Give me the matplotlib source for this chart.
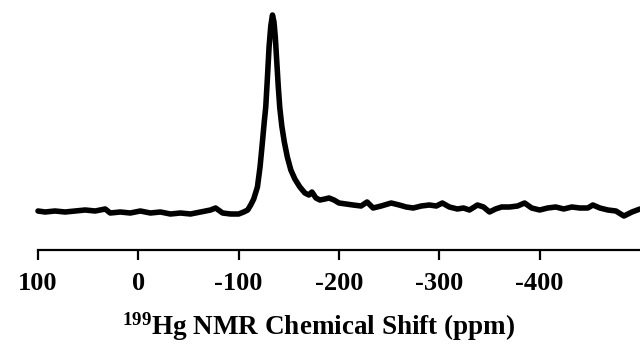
import numpy as np
import matplotlib.pyplot as plt

plt.rcParams['font.family'] = 'Liberation Serif'
plt.rcParams['font.weight'] = 'bold'
plt.rcParams['mathtext.fontset'] = 'custom'
plt.rcParams['mathtext.rm'] = 'Liberation Serif:bold'
plt.rcParams['mathtext.it'] = 'Liberation Serif:bold'
plt.rcParams['mathtext.bf'] = 'Liberation Serif:bold'

# 199Hg spectrum, chemical shift (ppm) vs intensity (a.u.)
shift = [100, 93, 83, 73, 63, 53, 43, 38, 33, 28, 18, 8, -2, -12, -22, -32,
         -42, -52, -62, -72, -77, -84, -92, -100, -105, -109, -112, -115,
         -118.7, -121.3, -123.5, -125.5, -127, -128.7, -130.3, -132, -133.7,
         -135.2, -136.5, -138, -139.5, -141, -143, -145.5, -148.5, -152,
         -156, -161, -166, -170, -173, -177, -181, -186, -190, -195, -200,
         -207, -214, -222, -228, -234, -242, -252, -260, -267, -274, -282,
         -290, -297, -303, -310, -318, -324, -330, -338, -344, -350, -356,
         -362, -370, -378, -385, -392, -400, -408, -416, -424, -432, -440,
         -448, -453, -460, -468, -476, -484, -492, -500]
intensity = [1, 0, 1, 0, 1, 2, 1, 2, 3, -1, 0, -1, 1, -1, 0, -2,
             -1, -2, 0, 2, 4, -1, -2, -2, 0, 2, 7, 13,
             25, 45, 68, 90, 105, 135, 165, 186, 197,
             190, 175, 150, 125, 104, 86, 70, 55, 42,
             33, 25, 19, 17, 20, 14, 12, 13, 14, 12, 9,
             8, 7, 6, 10, 4, 6, 9, 7, 5, 4, 6,
             7, 6, 9, 5, 3, 4, 2, 7, 5, 0, 3,
             5, 5, 6, 9, 4, 2, 4, 5, 3, 5, 4,
             4, 7, 4, 2, 1, -4, 0, 3]

tick_vals = [100, 0, -100, -200, -300, -400]

fig = plt.figure(figsize=(6.4, 3.47), dpi=100)
ax = fig.add_axes([38/640, 97/347, 602/640, 240/347])

ax.plot(shift, intensity, color='black', lw=4.0,
        solid_joinstyle='round', solid_capstyle='round', clip_on=False)

ax.set_xlim(100, -500)
ax.set_ylim(-38, 202)

for s in ['top', 'right', 'left']:
    ax.spines[s].set_visible(False)
ax.spines['bottom'].set_linewidth(1.6)
ax.set_yticks([])
ax.set_xticks(tick_vals)
ax.set_xticklabels([str(v) for v in tick_vals])
ax.tick_params(axis='x', direction='out', length=7, width=1.6,
               labelsize=19, pad=9)

fig.text(319/640, 1 - 327/347, r'$^{199}$Hg NMR Chemical Shift (ppm)',
         ha='center', va='center', fontsize=19.5, fontweight='bold')

fig.savefig('out.png', dpi=100)
